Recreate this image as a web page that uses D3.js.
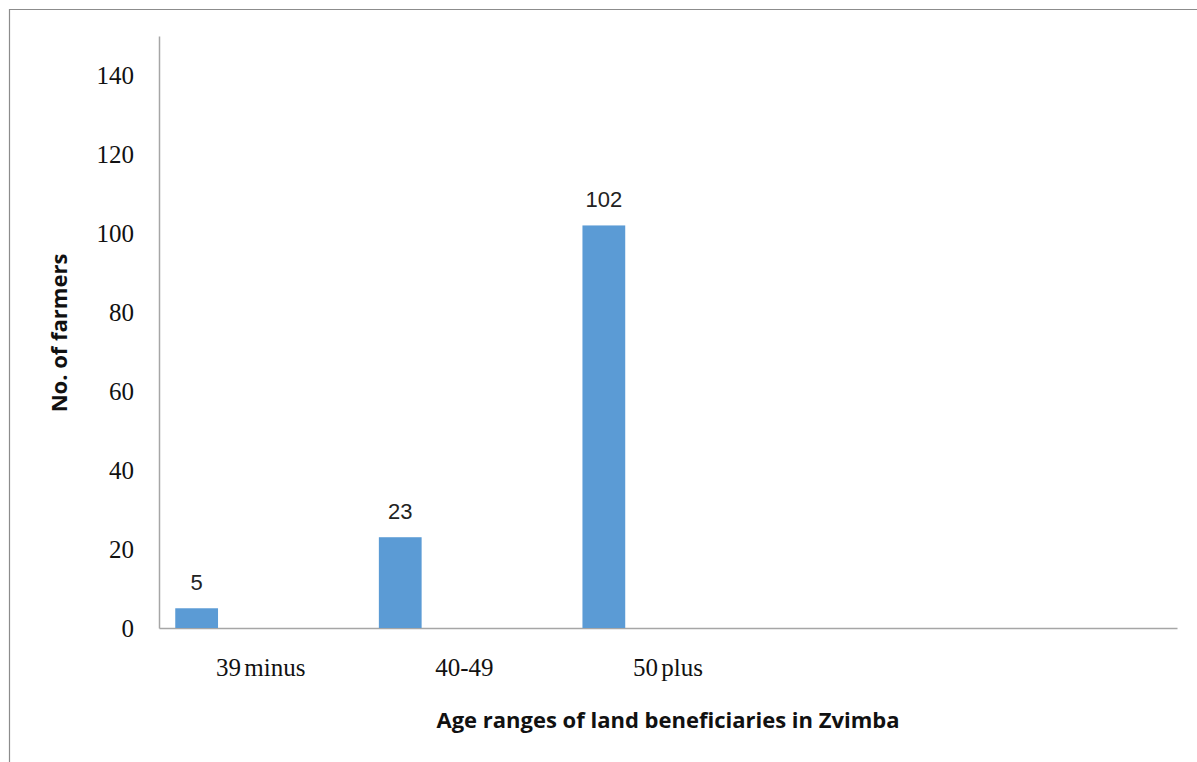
<!DOCTYPE html>
<html>
<head>
<meta charset="utf-8">
<script src="https://cdn.jsdelivr.net/npm/d3@7"></script>
<style>
  html, body { margin: 0; padding: 0; background: #fff; }
  svg { display: block; }
</style>
</head>
<body>
<svg id="chart" width="1197" height="762"></svg>
<script>
// Age groups of land beneficiaries and number of farmers in each
const categories = ["39 minus", "40-49", "50 plus"];
const farmers = [5, 23, 102];
const yTicks = [0, 20, 40, 60, 80, 100, 120, 140];
const slotCount = 5;           // category slots along the x axis (last two unused)
const yMax = 150;

const svg = d3.select("#chart");
const W = 1197, H = 762;
const margin = { left: 159, top: 36 };
const plotRight = 1177;
const baseY = 628;

// Outer frame (left and top edges)
svg.append("path")
  .attr("d", `M9.5,${H} L9.5,9.5 L${W},9.5`)
  .attr("fill", "none")
  .attr("stroke", "#8c8c8c")
  .attr("stroke-width", 1.2);

const x = d3.scaleBand()
  .domain(d3.range(slotCount))
  .range([margin.left, plotRight])
  .paddingInner(0)
  .paddingOuter(0);

const y = d3.scaleLinear()
  .domain([0, yMax])
  .range([baseY, margin.top]);

// Bars sit at the first position of a four-series cluster in each slot
const cluster = d3.scaleBand()
  .domain(d3.range(4))
  .range([0, x.bandwidth()])
  .paddingOuter(0.38)
  .paddingInner(0);

// Y axis
const yAxis = d3.axisLeft(y).tickValues(yTicks).tickSize(0).tickPadding(25);
const gy = svg.append("g").attr("transform", `translate(${margin.left},0)`).call(yAxis);
gy.select(".domain").attr("stroke", "#a6a6a6").attr("stroke-width", 1.5);
gy.selectAll(".tick text")
  .attr("font-family", "'Liberation Serif', 'Times New Roman', serif")
  .attr("font-size", 25)
  .attr("fill", "#111");

// X axis
const xAxis = d3.axisBottom(x)
  .tickSize(0)
  .tickPadding(30)
  .tickFormat(i => categories[i] || "");
const gx = svg.append("g").attr("transform", `translate(0,${baseY})`).call(xAxis);
gx.select(".domain").attr("stroke", "#a6a6a6").attr("stroke-width", 1.5);
gx.selectAll(".tick text")
  .attr("font-family", "'Liberation Serif', 'Times New Roman', serif")
  .attr("font-size", 25)
  .attr("fill", "#111")
  .attr("word-spacing", -3);

// Bars
const barW = cluster.bandwidth();
svg.append("g").selectAll("rect")
  .data(farmers)
  .join("rect")
  .attr("x", (d, i) => x(i) + cluster(0))
  .attr("y", d => y(d))
  .attr("width", barW)
  .attr("height", d => y(0) - y(d))
  .attr("fill", "#5b9bd5");

// Value labels
svg.append("g").selectAll("text")
  .data(farmers)
  .join("text")
  .attr("x", (d, i) => x(i) + cluster(0) + barW / 2)
  .attr("y", d => y(d) - 18)
  .attr("text-anchor", "middle")
  .attr("font-family", "'Liberation Sans', Arial, sans-serif")
  .attr("font-size", 22)
  .attr("fill", "#222")
  .text(d => d);

// Axis titles
svg.append("text")
  .attr("x", (margin.left + plotRight) / 2)
  .attr("y", 728)
  .attr("text-anchor", "middle")
  .attr("font-family", "'Open Sans', 'Liberation Sans', sans-serif")
  .attr("font-weight", "bold")
  .attr("font-size", 22)
  .attr("fill", "#111")
  .text("Age ranges of land beneficiaries in Zvimba");

svg.append("text")
  .attr("transform", `translate(67,333) rotate(-90)`)
  .attr("text-anchor", "middle")
  .attr("font-family", "'Open Sans', 'Liberation Sans', sans-serif")
  .attr("font-weight", "bold")
  .attr("font-size", 22)
  .attr("fill", "#111")
  .text("No. of farmers");
</script>
</body>
</html>
